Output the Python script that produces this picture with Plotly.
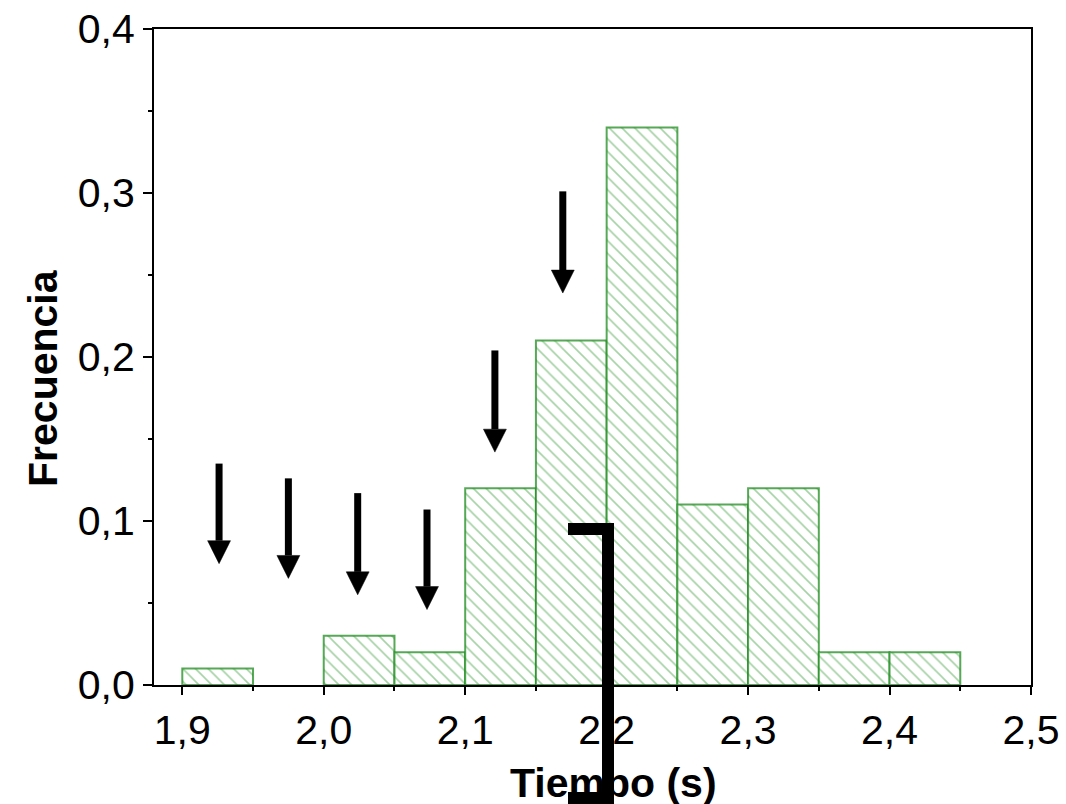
import plotly.graph_objects as go

# ---- data ----
bin_left = [1.90, 1.95, 2.00, 2.05, 2.10, 2.15, 2.20, 2.25, 2.30, 2.35, 2.40]
freq = [0.01, 0.00, 0.03, 0.02, 0.12, 0.21, 0.34, 0.11, 0.12, 0.02, 0.02]
bin_width = 0.05

x_ticks = [1.9, 2.0, 2.1, 2.2, 2.3, 2.4, 2.5]
y_ticks = [0.0, 0.1, 0.2, 0.3, 0.4]

# arrows (data coords): x, top of shaft, tip
arrow_x = [1.926, 1.975, 2.024, 2.073, 2.121, 2.169]
arrow_top = [0.135, 0.126, 0.117, 0.107, 0.204, 0.301]
arrow_tip = [0.074, 0.065, 0.055, 0.046, 0.142, 0.239]

# black bracket artefact (paper coords: left, top, width px, height px)
bracket_parts = [
    (0.4721, 0.2470, 45, 12),
    (0.5108, 0.2470, 12, 281),
    (0.4721, -0.1631, 46, 12),
]

FONT = "Arial, Liberation Sans, sans-serif"
GREEN_LINE = "rgba(30,140,30,0.75)"
GREEN_HATCH = "rgba(30,140,30,0.8)"

fig = go.Figure()
fig.add_bar(
    x=[b + bin_width / 2 for b in bin_left],
    y=freq,
    width=bin_width,
    marker=dict(
        color="white",
        pattern=dict(shape="\\", fgcolor=GREEN_HATCH, bgcolor="white", size=9, solidity=0.18),
        line=dict(color=GREEN_LINE, width=[2 if f > 0 else 0 for f in freq]),
    ),
    showlegend=False,
)

shapes = []
head_hw = 0.0081
head_h = 0.014
for x, top, tip in zip(arrow_x, arrow_top, arrow_tip):
    shapes.append(dict(type="line", xref="x", yref="y", x0=x, x1=x, y0=top, y1=tip + head_h,
                       line=dict(color="black", width=7), layer="above"))
    shapes.append(dict(type="path", xref="x", yref="y",
                       path=f"M {x - head_hw},{tip + head_h} L {x + head_hw},{tip + head_h} L {x},{tip} Z",
                       fillcolor="black", line=dict(color="black", width=0.5), layer="above"))

annotations = [
    dict(text="<b>Tiempo (s)</b>", xref="paper", yref="paper", x=0.5245, y=-0.149,
         xanchor="center", yanchor="middle", showarrow=False,
         font=dict(family=FONT, size=41, color="black")),
    dict(text="<b>Frecuencia</b>", xref="paper", yref="paper", x=-0.1266, y=0.468,
         xanchor="center", yanchor="middle", showarrow=False, textangle=-90,
         font=dict(family=FONT, size=41, color="black")),
]
for (px, py, w, h) in bracket_parts:
    annotations.append(dict(text="", xref="paper", yref="paper", x=px, y=py,
                            xanchor="left", yanchor="top", showarrow=False,
                            width=w, height=h, bgcolor="black", borderpad=0, borderwidth=0))

axis_common = dict(
    showgrid=False, zeroline=False, showline=True, linecolor="black", linewidth=2,
    mirror=True, ticks="outside", tickcolor="black", tickwidth=2, automargin=False,
    tickfont=dict(family=FONT, size=41, color="black"),
)

fig.update_layout(
    width=1066, height=804,
    margin=dict(l=154, r=35, t=29, b=119, autoexpand=False),
    paper_bgcolor="white", plot_bgcolor="white",
    separators=",.",
    shapes=shapes, annotations=annotations,
    xaxis=dict(range=[1.88, 2.5], tickvals=x_ticks, tickformat=".1f", ticklen=8,
               minor=dict(dtick=0.05, tick0=1.9, ticks="outside", ticklen=4, tickcolor="black", tickwidth=2),
               **axis_common),
    yaxis=dict(range=[0, 0.4], tickvals=y_ticks, tickformat=".1f", ticklen=9,
               minor=dict(dtick=0.05, tick0=0, ticks="outside", ticklen=4, tickcolor="black", tickwidth=2),
               **axis_common),
)

fig.write_html("out.html")
